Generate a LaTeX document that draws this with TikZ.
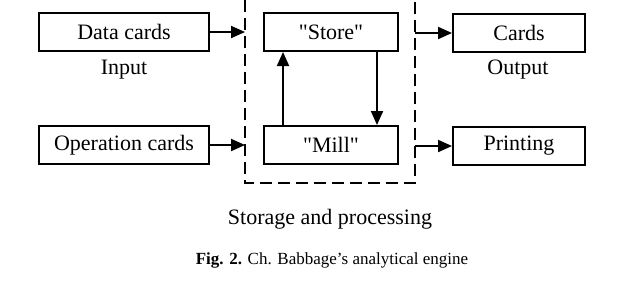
\documentclass[tikz,border=0pt]{standalone}
\usepackage{fontspec}
\setmainfont{Liberation Serif}
\usetikzlibrary{%
	arrows.meta,%
	positioning,%
}
\tikzset{
	>={Triangle[length=7pt,width=6pt]},%
	nodes={align=center},%
	block/.style={%
			draw,%
			rectangle,%
			line width=1pt,%
			minimum height=19pt,%
			font={\fontsize{11}{13}\selectfont},%
			fill=white},%
	lbl/.style={%
			font={\fontsize{11}{13}\selectfont}},%
	flow/.style={%
			->,%
			line width=1pt},%
}

\begin{document}
\begin{tikzpicture}[x=0.5pt, y=-0.5pt]%
	\useasboundingbox (0,0) rectangle (619,291);

	\node[block, minimum width=85pt] (data) at (124,32) {Data cards};
	\node[block, minimum width=85pt] (oper) at (124,145) {Operation cards};
	\node[block, minimum width=67pt] (store) at (331,32) {\textquotedbl Store\textquotedbl};
	\node[block, minimum width=67pt] (mill) at (331,145) {\textquotedbl Mill\textquotedbl};
	\node[block, minimum width=66pt] (cards) at (519,33) {Cards};
	\node[block, minimum width=66pt] (print) at (519,146) {Printing};

	\node[lbl] (input) at (124,70) {Input};
	\node[lbl] (output) at (518,70) {Output};
	\node[lbl] (storage) at (330,219) {Storage and processing};
	\node[font={\fontsize{8.5}{10}\selectfont}] (caption) at (332,260) {\textbf{Fig. 2.} Ch. Babbage's analytical engine};

	% dashed frame round store and mill
	\coordinate (dtl) at (245,0);
	\coordinate (dbr) at (415,183);
	\coordinate (dtr) at (415,0);
	\draw[dashed, line width=1pt, dash pattern=on 6pt off 3pt] (dtl) |- (dbr) -- (dtr);

	\draw[flow] (data.east) -- (data.east -| dtl);
	\draw[flow] (oper.east) -- (oper.east -| dtl);
	\draw[flow] (cards.west -| dtr) -- (cards.west);
	\draw[flow] (print.west -| dtr) -- (print.west);
	\draw[flow] ([xshift=-24pt]mill.north) -- ([xshift=-24pt]store.south);
	\draw[flow] ([xshift=23pt]store.south) -- ([xshift=23pt]mill.north);
\end{tikzpicture}
\end{document}
